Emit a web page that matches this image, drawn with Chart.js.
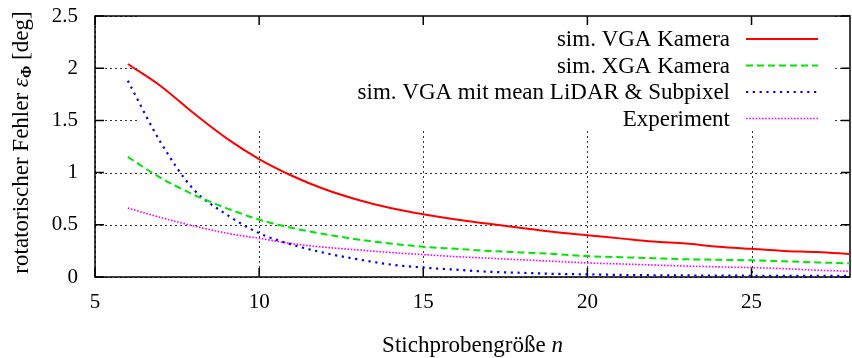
<!DOCTYPE html>
<html>
<head>
<meta charset="utf-8">
<script src="https://cdn.jsdelivr.net/npm/chart.js@4.4.1/dist/chart.umd.min.js"></script>
<style>
  html, body { margin: 0; padding: 0; background: #fff; }
  #wrap { width: 852px; height: 358px; }
</style>
</head>
<body>
<div id="wrap"><canvas id="chart"></canvas></div>
<script>
// sample size n
const sampleSizes = [6, 7, 8, 9, 10, 11, 12, 13, 14, 15, 16, 17, 18, 19, 20, 21, 22, 23, 24, 25, 26, 27, 28];
// rotational error in deg
const vgaCamera = [2.04, 1.83, 1.57, 1.33, 1.13, 0.97, 0.84, 0.74, 0.66, 0.60, 0.55, 0.51, 0.47, 0.43, 0.40, 0.37, 0.34, 0.32, 0.29, 0.27, 0.25, 0.24, 0.22];
const xgaCamera = [1.15, 0.95, 0.79, 0.66, 0.55, 0.47, 0.41, 0.36, 0.32, 0.29, 0.27, 0.25, 0.235, 0.22, 0.20, 0.19, 0.18, 0.17, 0.165, 0.16, 0.15, 0.14, 0.13];
const vgaLidarSubpixel = [1.88, 1.29, 0.84, 0.60, 0.42, 0.31, 0.23, 0.17, 0.12, 0.09, 0.07, 0.05, 0.04, 0.03, 0.025, 0.02, 0.017, 0.015, 0.013, 0.012, 0.011, 0.01, 0.01];
const experiment = [0.66, 0.57, 0.49, 0.42, 0.37, 0.32, 0.285, 0.26, 0.235, 0.215, 0.195, 0.18, 0.165, 0.15, 0.135, 0.125, 0.115, 0.105, 0.097, 0.09, 0.08, 0.065, 0.055];

const seriesLabels = ['sim. VGA Kamera', 'sim. XGA Kamera', 'sim. VGA mit mean LiDAR & Subpixel', 'Experiment'];
const xTicks = [5, 10, 15, 20, 25];
const yTicks = [0, 0.5, 1, 1.5, 2, 2.5];

const FONT = '"Liberation Serif", "Times New Roman", serif';
const FONT_SIZE = 23;
const TICK_SIZE = 21;

const toPoints = arr => sampleSizes.map((n, i) => ({ x: n, y: arr[i] }));

// gnuplot-like frame: dotted grid, opaque key box, border and inward ticks
const framePlugin = {
  id: 'frame',
  beforeDatasetsDraw(chart) {
    const { ctx, chartArea: a, scales: { x, y } } = chart;
    ctx.save();
    ctx.strokeStyle = '#333';
    ctx.lineWidth = 1;
    ctx.setLineDash([2, 3]);
    xTicks.forEach(v => {
      const px = Math.round(x.getPixelForValue(v)) + 0.5;
      ctx.beginPath();
      ctx.moveTo(px, a.top);
      ctx.lineTo(px, a.bottom);
      ctx.stroke();
    });
    yTicks.forEach(v => {
      const py = Math.round(y.getPixelForValue(v)) + 0.5;
      ctx.beginPath();
      ctx.moveTo(a.left, py);
      ctx.lineTo(a.right, py);
      ctx.stroke();
    });
    ctx.setLineDash([]);

    // key box hides the grid behind it
    ctx.fillStyle = '#fff';
    ctx.fillRect(a.left + 42, a.top, a.right - 16 - (a.left + 42), 115);

    ctx.strokeStyle = '#000';
    ctx.lineWidth = 1.5;
    ctx.strokeRect(a.left, a.top, a.right - a.left, a.bottom - a.top);

    const tl = 9;
    ctx.beginPath();
    xTicks.forEach(v => {
      const px = x.getPixelForValue(v);
      ctx.moveTo(px, a.bottom); ctx.lineTo(px, a.bottom - tl);
      ctx.moveTo(px, a.top); ctx.lineTo(px, a.top + tl);
    });
    yTicks.forEach(v => {
      const py = y.getPixelForValue(v);
      ctx.moveTo(a.left, py); ctx.lineTo(a.left + tl, py);
      ctx.moveTo(a.right, py); ctx.lineTo(a.right - tl, py);
    });
    ctx.stroke();
    ctx.restore();
  },
  afterDatasetsDraw(chart) {
    const { ctx, chartArea: a } = chart;
    ctx.save();
    ctx.font = `${FONT_SIZE}px ${FONT}`;
    ctx.fillStyle = '#000';
    ctx.textAlign = 'right';
    ctx.textBaseline = 'middle';
    chart.data.datasets.forEach((ds, i) => {
      const yy = a.top + 23 + i * 26.5;
      ctx.fillText(ds.label, a.right - 120, yy + 1);
      ctx.strokeStyle = ds.borderColor;
      ctx.lineWidth = ds.borderWidth;
      ctx.setLineDash(ds.borderDash || []);
      ctx.beginPath();
      ctx.moveTo(a.right - 104, yy);
      ctx.lineTo(a.right - 32, yy);
      ctx.stroke();
    });
    ctx.setLineDash([]);

    // axis titles with mixed styles
    ctx.textAlign = 'left';
    ctx.textBaseline = 'alphabetic';
    const regular = `${FONT_SIZE}px ${FONT}`;
    const italic = `italic ${FONT_SIZE}px ${FONT}`;
    const drawParts = (parts, cx, cy) => {
      let total = 0;
      parts.forEach(p => { ctx.font = p.font; total += ctx.measureText(p.text).width; });
      let cur = cx - total / 2;
      parts.forEach(p => {
        ctx.font = p.font;
        ctx.fillText(p.text, cur, cy + (p.dy || 0));
        cur += ctx.measureText(p.text).width;
      });
    };
    drawParts([
      { text: 'Stichprobengröße ', font: regular },
      { text: 'n', font: italic }
    ], (a.left + a.right) / 2, 352);

    ctx.save();
    ctx.translate(28, (a.top + a.bottom) / 2 - 4);
    ctx.rotate(-Math.PI / 2);
    drawParts([
      { text: 'rotatorischer Fehler ', font: regular },
      { text: 'ε', font: italic },
      { text: 'Φ', font: `bold 15px ${FONT}`, dy: 3 },
      { text: ' [deg]', font: regular }
    ], 0, 0);
    ctx.restore();
    ctx.restore();
  }
};

new Chart(document.getElementById('chart'), {
  type: 'line',
  data: {
    datasets: [
      {
        label: seriesLabels[0],
        data: toPoints(vgaCamera),
        borderColor: '#ff0000',
        borderWidth: 2,
      },
      {
        label: seriesLabels[1],
        data: toPoints(xgaCamera),
        borderColor: '#00e600',
        borderWidth: 2,
        borderDash: [7, 4],
      },
      {
        label: seriesLabels[2],
        data: toPoints(vgaLidarSubpixel),
        borderColor: '#0000ff',
        borderWidth: 2.2,
        borderDash: [2.2, 4.6],
      },
      {
        label: seriesLabels[3],
        data: toPoints(experiment),
        borderColor: '#ff00ff',
        borderWidth: 1.6,
        borderDash: [1.6, 1.6],
      },
    ],
  },
  options: {
    responsive: true,
    maintainAspectRatio: false,
    animation: false,
    layout: { autoPadding: false, padding: { top: 16, right: 2, left: 0, bottom: 0 } },
    elements: {
      point: { radius: 0 },
      line: { tension: 0.4, cubicInterpolationMode: 'monotone', fill: false },
    },
    plugins: {
      legend: { display: false },
      tooltip: { enabled: false },
    },
    scales: {
      x: {
        type: 'linear',
        min: 5,
        max: 28,
        afterBuildTicks: s => { s.ticks = xTicks.map(v => ({ value: v })); },
        afterFit: s => { s.height = 81; s.paddingLeft = 0; s.paddingRight = 0; },
        grid: { display: false, drawTicks: false },
        border: { display: false },
        ticks: { color: '#000', padding: 13, font: { family: FONT, size: TICK_SIZE } },
      },
      y: {
        min: 0,
        max: 2.5,
        afterBuildTicks: s => { s.ticks = yTicks.map(v => ({ value: v })); },
        afterFit: s => { s.width = 95; s.paddingTop = 0; s.paddingBottom = 0; },
        grid: { display: false, drawTicks: false },
        border: { display: false },
        ticks: {
          color: '#000',
          padding: 17,
          font: { family: FONT, size: TICK_SIZE },
          callback: v => String(v),
        },
      },
    },
  },
  plugins: [framePlugin],
});
</script>
</body>
</html>
